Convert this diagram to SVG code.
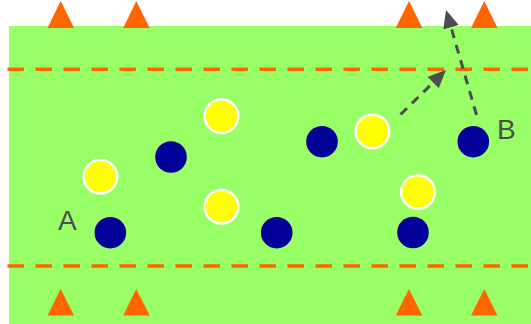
<svg xmlns="http://www.w3.org/2000/svg" width="531" height="324" viewBox="0 0 531 324">
<style>
.cone{fill:#ff6600}
.line{stroke:#ff6600;stroke-width:3.5;stroke-dasharray:16.5 11.5;fill:none}
.y{fill:#ffff00;stroke:#ffffff;stroke-width:2.5}
.b{fill:#000099}
.arr{stroke:#4d4d4d;stroke-width:3;stroke-dasharray:9 7;fill:none;marker-end:url(#ah)}
.lbl{font-family:"Liberation Sans",Arial,sans-serif;font-size:28px;fill:#4d4d4d}
</style>
<defs>
<marker id="ah" markerUnits="userSpaceOnUse" markerWidth="18" markerHeight="16" refX="18" refY="8" orient="auto" viewBox="0 0 18 16">
<path d="M0,0 L18,8 L0,16 Z" fill="#4d4d4d"/>
</marker>
</defs>
<rect x="9" y="26" width="522" height="298" fill="#99ff66"/>
<g id="cones-top">
<polygon class="cone" points="60.7,1 47.5,28 74,28"/>
<polygon class="cone" points="136.3,1 123.2,28 149.7,28"/>
<polygon class="cone" points="409,1 395.7,28 422.3,28"/>
<polygon class="cone" points="484.3,1 471,28 497.5,28"/>
</g>
<g id="cones-bottom">
<polygon class="cone" points="60.7,289 47.5,315.5 74,315.5"/>
<polygon class="cone" points="136.3,289 123.2,315.5 149.7,315.5"/>
<polygon class="cone" points="409,289 395.7,315.5 422.3,315.5"/>
<polygon class="cone" points="484.3,289 471,315.5 497.5,315.5"/>
</g>
<g id="lines">
<line class="line" x1="7.5" y1="69.3" x2="531" y2="69.3"/>
<line class="line" x1="7.5" y1="266" x2="531" y2="266"/>
</g>
<g id="yellow-players">
<circle class="y" cx="221.5" cy="116.3" r="16.8"/>
<circle class="y" cx="221.5" cy="206.8" r="16.8"/>
<circle class="y" cx="100.5" cy="176.7" r="16.8"/>
<circle class="y" cx="372.5" cy="131.5" r="16.8"/>
<circle class="y" cx="418" cy="192" r="16.8"/>
</g>
<g id="blue-players">
<circle class="b" cx="171" cy="157" r="15.8"/>
<circle class="b" cx="110.3" cy="232.7" r="15.8"/>
<circle class="b" cx="322" cy="141.7" r="15.8"/>
<circle class="b" cx="276.7" cy="232.7" r="15.8"/>
<circle class="b" cx="413" cy="232.5" r="15.8"/>
<circle class="b" cx="473.3" cy="141.7" r="15.8"/>
</g>
<g id="connectors">
<line class="arr" x1="400.5" y1="114.5" x2="446" y2="70"/>
<line class="arr" x1="476.5" y1="115" x2="446" y2="10"/>
</g>
<g id="labels">
<text class="lbl" x="58" y="230">A</text>
<text class="lbl" x="497" y="138.5">B</text>
</g>
</svg>
